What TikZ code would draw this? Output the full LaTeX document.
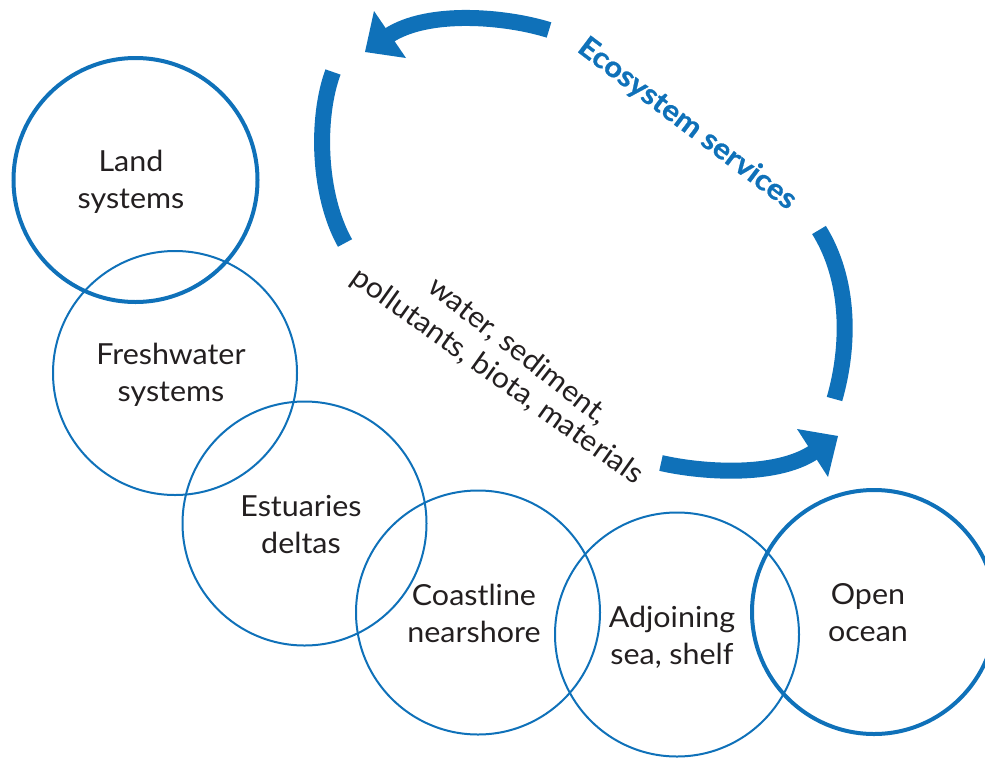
\documentclass[tikz,border=0pt]{standalone}
\usepackage{fontspec}
\setmainfont{Lato}[FakeStretch=1.05]
\newfontfamily\ecofont{Lato}[FakeStretch=1.07, BoldFeatures={FakeBold=0.8}]
\definecolor{blu}{HTML}{0F71B9}
\definecolor{ink}{HTML}{231F20}
\begin{document}
\begin{tikzpicture}[x=1pt,y=-1pt,
  sys/.style={circle, draw=blu, line width=2pt, minimum size=244pt, inner sep=0pt, outer sep=0pt},
  systhick/.style={sys, line width=4pt},
  lbl/.style={text=ink, font=\fontsize{29}{37}\selectfont, align=center, inner sep=0pt},
  band/.style={draw=blu, line width=16pt},
  headtri/.style={fill=blu, draw=none}
]
\useasboundingbox (0,0) rectangle (985,758);
\clip (0,0) rectangle (985,758);

% circles
\node[systhick] (land) at (135.5,180) {};
\node[sys] (fresh) at (175,373) {};
\node[sys] (estu) at (304.5,523.5) {};
\node[sys] (coast) at (478,612.5) {};
\node[sys] (adj) at (677,634.5) {};
\node[systhick] (open) at (874,612) {};

% labels
\node[lbl] (land-t) at (131,182) {Land\\systems};
\node[lbl] (fresh-t) at (171,375) {Freshwater\\systems};
\node[lbl] (estu-t) at (301,525) {Estuaries\\deltas};
\node[lbl] (coast-t) at (474,613) {Coastline\\nearshore};
\node[lbl] (adj-t) at (672,637) {Adjoining\\sea, shelf};
\node[lbl] (open-t) at (868,613) {Open\\ocean};

% cycle arrows
\coordinate (t0) at (549,30);
\coordinate (t1) at (388,36);
\draw[band] (t0) .. controls (506,16.5) and (428,9.4) .. (t1);
\fill[headtri] (365,52) -- (374,11) -- (406,58) -- cycle;

\coordinate (l0) at (333,72);
\coordinate (l1) at (345,243);
\draw[band] (l0) .. controls (316,118) and (318,195) .. (l1);

\coordinate (r0) at (819,230);
\coordinate (r1) at (834.5,399);
\draw[band] (r0) .. controls (850,280) and (850,345) .. (r1);

\coordinate (b0) at (661,463);
\coordinate (b1) at (814,452);
\draw[band] (b0) .. controls (700,472) and (775,478) .. (b1);
\fill[headtri] (838,436) -- (797,429) -- (828,477) -- cycle;

% texts along the cycle
\node[text=blu, font=\ecofont\bfseries\fontsize{29}{34}\selectfont, rotate=-37, inner sep=0pt] (eco) at (687,124) {Ecosystem services};
\node[lbl, rotate=-38] (flow1) at (518,351) {water, sediment,};
\node[lbl, rotate=-35.5] (flow2) at (497,377) {pollutants, biota, materials};
\end{tikzpicture}
\end{document}
